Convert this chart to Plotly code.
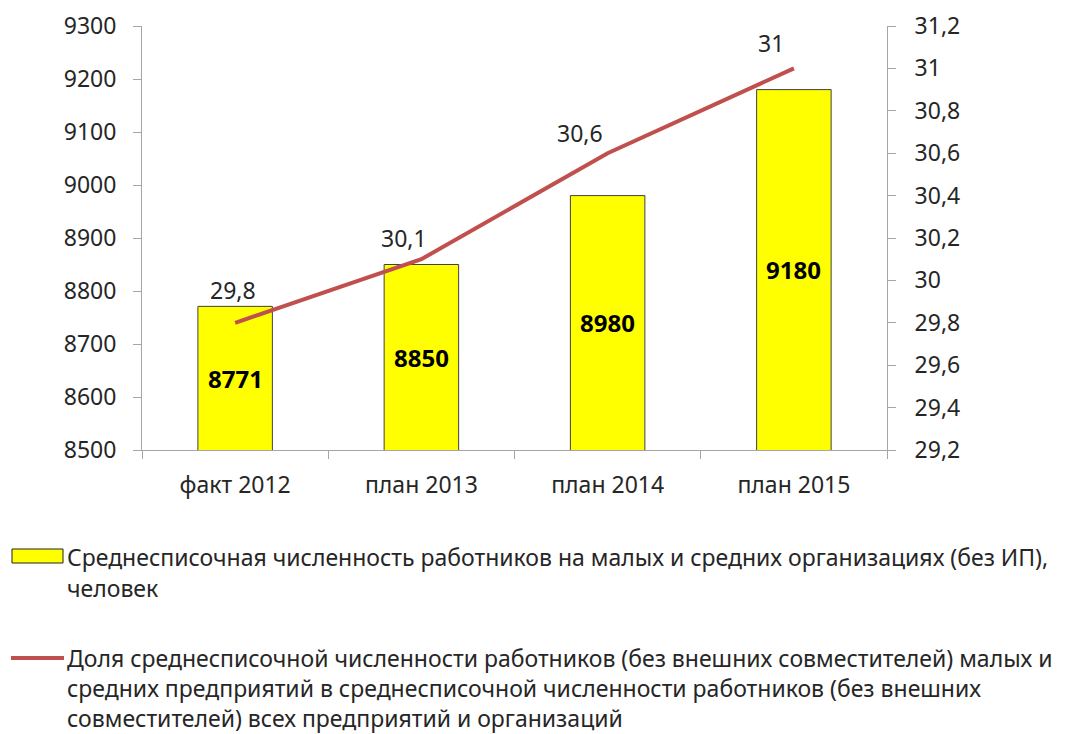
import plotly.graph_objects as go

categories = ["факт 2012", "план 2013", "план 2014", "план 2015"]
workers = [8771, 8850, 8980, 9180]
share = [29.8, 30.1, 30.6, 31.0]
share_labels = ["29,8", "30,1", "30,6", "31"]
left_ticks = list(range(8500, 9301, 100))
right_ticks = [29.2, 29.4, 29.6, 29.8, 30.0, 30.2, 30.4, 30.6, 30.8, 31.0, 31.2]
right_tick_text = ["29,2", "29,4", "29,6", "29,8", "30", "30,2", "30,4", "30,6", "30,8", "31", "31,2"]
legend_bar = ["Среднесписочная численность работников на малых и средних организациях (без ИП),",
              "человек"]
legend_line = ["Доля среднесписочной численности работников (без внешних совместителей) малых и",
               "средних предприятий в среднесписочной численности работников (без внешних",
               "совместителей) всех предприятий и организаций"]

OFF = 8  # page body margin
W, H = 1068 - OFF, 734 - OFF
# plot area in page pixels
PL, PR, PT, PB = 142, 887, 26, 450
L, R, T, B = PL - OFF, PR - OFF, PT - OFF, PB - OFF
FONT = "Noto Sans"
TXT = "#262626"
FS = 23
Y_MIN, Y_MAX = 8500, 9300

def px(x):  # page pixel -> paper
    return (x - PL) / (PR - PL)

def py(y):
    return (PB - y) / (PB - PT)

fig = go.Figure()
fig.add_trace(go.Bar(
    x=categories, y=workers, width=0.4,
    marker=dict(color="#FFFF00", line=dict(color="#404040", width=1)),
    showlegend=False,
))
fig.add_trace(go.Scatter(
    x=categories, y=share, yaxis="y2", mode="lines",
    line=dict(color="#C0504D", width=4), showlegend=False,
))

# bar value labels centred in the visible part of each bar
for c, v in zip(categories, workers):
    fig.add_annotation(x=c, y=(Y_MIN + v) / 2, text=f"<b>{v}</b>", showarrow=False,
                       xanchor="center", yanchor="middle",
                       font=dict(family=FONT, size=24, color="black"))

# line value labels
yshifts = [33, 21, 20, 25]
xshifts = [-2, -17, -28, -23]
for c, v, t, ys, xs in zip(categories, share, share_labels, yshifts, xshifts):
    fig.add_annotation(x=c, y=v, yref="y2", text=t, showarrow=False,
                       xanchor="center", yanchor="middle", yshift=ys, xshift=xs,
                       font=dict(family=FONT, size=FS, color=TXT))

# custom legend
LFS = 23
fig.add_shape(type="rect", xref="paper", yref="paper",
              x0=px(12), x1=px(63), y0=py(563), y1=py(549),
              fillcolor="#FFFF00", line=dict(color="#202020", width=1))
fig.add_shape(type="line", xref="paper", yref="paper",
              x0=px(11), x1=px(64), y0=py(658), y1=py(658),
              line=dict(color="#C0504D", width=4))
for i, line in enumerate(legend_bar):
    fig.add_annotation(xref="paper", yref="paper", x=px(65), y=py(557 + 31 * i),
                       text=line, showarrow=False, xanchor="left", yanchor="middle",
                       font=dict(family=FONT, size=LFS, color=TXT))
for i, line in enumerate(legend_line):
    fig.add_annotation(xref="paper", yref="paper", x=px(65), y=py(658 + 30 * i),
                       text=line, showarrow=False, xanchor="left", yanchor="middle",
                       font=dict(family=FONT, size=LFS, color=TXT))

axis_common = dict(showgrid=False, zeroline=False, showline=True, linecolor="#A6A6A6",
                   linewidth=1, ticks="outside", tickcolor="#A6A6A6", automargin=False,
                   tickfont=dict(family=FONT, size=FS, color=TXT))

fig.update_layout(
    width=W, height=H,
    margin=dict(l=L, r=W - R, t=T, b=H - B, pad=0),
    paper_bgcolor="white", plot_bgcolor="white",
    xaxis=dict(**axis_common, type="category", tickson="boundaries", ticklen=8,
               ticklabelstandoff=14),
    yaxis=dict(**axis_common, ticklen=8, range=[Y_MIN, Y_MAX], tickvals=left_ticks,
               ticktext=[str(v) for v in left_ticks], ticklabelstandoff=12),
    yaxis2=dict(**axis_common, ticklen=8, overlaying="y", side="right", range=[29.2, 31.2],
                tickvals=right_ticks, ticktext=right_tick_text, ticklabelstandoff=14),
)

fig.write_html("out.html")
